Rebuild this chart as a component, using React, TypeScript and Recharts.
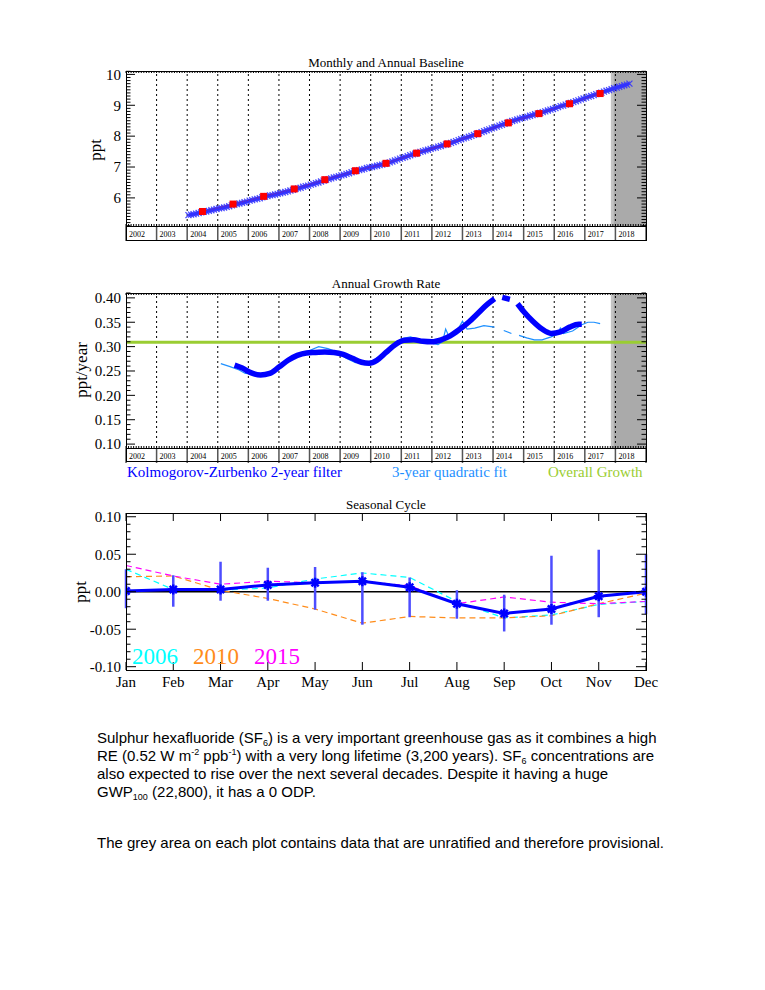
import React from 'react';
import { ComposedChart, Line, XAxis, YAxis, ReferenceLine, ReferenceArea, ErrorBar } from 'recharts';

const SERIF = '"Liberation Serif", "Times New Roman", serif';
const SANS = '"Liberation Sans", Arial, sans-serif';

// year boundaries of the time axis (labels sit between them)
const yearBounds = [2002, 2003, 2004, 2005, 2006, 2007, 2008, 2009, 2010, 2011, 2012, 2013, 2014, 2015, 2016, 2017, 2018, 2019];
const gridYears = [2003, 2004, 2005, 2006, 2007, 2008, 2009, 2010, 2011, 2012, 2013, 2014, 2015, 2016, 2017, 2018];
const provisionalFrom = 2017.85;

// monthly baseline, Jan 2004 onwards (ppt)
const monthlyStart = 2004;
const monthlyPpt = [
  5.44, 5.46, 5.47, 5.49, 5.51, 5.53, 5.55, 5.56, 5.58, 5.60, 5.62, 5.64,
  5.66, 5.67, 5.69, 5.71, 5.73, 5.76, 5.78, 5.80, 5.82, 5.84, 5.86, 5.88,
  5.91, 5.93, 5.95, 5.97, 5.99, 6.02, 6.04, 6.06, 6.08, 6.09, 6.11, 6.13,
  6.15, 6.17, 6.19, 6.21, 6.24, 6.26, 6.29, 6.31, 6.33, 6.36, 6.38, 6.40,
  6.43, 6.45, 6.48, 6.50, 6.53, 6.56, 6.59, 6.61, 6.63, 6.66, 6.68, 6.70,
  6.73, 6.75, 6.78, 6.80, 6.83, 6.86, 6.88, 6.90, 6.92, 6.94, 6.97, 6.99,
  7.00, 7.02, 7.04, 7.06, 7.08, 7.10, 7.12, 7.15, 7.18, 7.21, 7.24, 7.27,
  7.30, 7.32, 7.35, 7.38, 7.41, 7.43, 7.46, 7.49, 7.51, 7.54, 7.56, 7.59,
  7.61, 7.63, 7.66, 7.68, 7.71, 7.73, 7.76, 7.78, 7.81, 7.84, 7.87, 7.90,
  7.93, 7.95, 7.98, 8.01, 8.04, 8.07, 8.10, 8.13, 8.16, 8.19, 8.22, 8.25,
  8.28, 8.31, 8.34, 8.37, 8.40, 8.43, 8.46, 8.49, 8.51, 8.54, 8.57, 8.59,
  8.61, 8.63, 8.66, 8.68, 8.71, 8.73, 8.75, 8.78, 8.80, 8.83, 8.86, 8.88,
  8.91, 8.94, 8.97, 8.99, 9.02, 9.05, 9.08, 9.10, 9.13, 9.16, 9.19, 9.22,
  9.25, 9.28, 9.30, 9.33, 9.36, 9.38, 9.41, 9.44, 9.47, 9.49, 9.52, 9.55,
  9.57, 9.60, 9.62, 9.65, 9.67, 9.70,
];

// annual means
const annualYears = [2004.5, 2005.5, 2006.5, 2007.5, 2008.5, 2009.5, 2010.5, 2011.5, 2012.5, 2013.5, 2014.5, 2015.5, 2016.5, 2017.5];
const annualPpt = [5.56, 5.80, 6.05, 6.29, 6.59, 6.88, 7.12, 7.45, 7.75, 8.08, 8.43, 8.73, 9.05, 9.38];

const baselineTicks = [6, 7, 8, 9, 10];

// growth rate (ppt/year); null = gap in the record
const kzYears = [2005.55, 2005.8, 2006.1, 2006.4, 2006.7, 2007.0, 2007.3, 2007.6, 2007.9, 2008.2, 2008.5, 2008.8, 2009.1, 2009.4, 2009.7, 2009.95, 2010.2, 2010.5, 2010.8, 2011.1, 2011.4, 2011.7, 2012.0, 2012.3, 2012.6, 2012.9, 2013.2, 2013.5, 2013.8, 2014.05, 2014.2, 2014.3, 2014.55, 2014.7, 2014.8, 2015.0, 2015.3, 2015.6, 2015.9, 2016.2, 2016.5, 2016.8, 2016.9];
const kzRate = [0.262, 0.256, 0.246, 0.242, 0.245, 0.258, 0.272, 0.282, 0.287, 0.288, 0.289, 0.288, 0.284, 0.276, 0.268, 0.266, 0.272, 0.288, 0.304, 0.313, 0.314, 0.311, 0.310, 0.314, 0.322, 0.335, 0.350, 0.368, 0.386, 0.398, null, 0.401, 0.397, null, 0.388, 0.372, 0.352, 0.336, 0.327, 0.330, 0.340, 0.346, 0.346];

const quadYears = [2005.1, 2005.4, 2005.7, 2005.9, 2006.2, 2006.5, 2006.8, 2007.1, 2007.4, 2007.7, 2008.0, 2008.3, 2008.6, 2008.9, 2009.2, 2009.5, 2009.8, 2010.1, 2010.4, 2010.7, 2011.0, 2011.3, 2011.6, 2011.9, 2012.2, 2012.35, 2012.45, 2012.55, 2012.8, 2013.0, 2013.15, 2013.4, 2013.7, 2014.05, 2014.2, 2014.35, 2014.6, 2014.7, 2014.85, 2015.1, 2015.35, 2015.6, 2015.9, 2016.1, 2016.2, 2016.3, 2016.6, 2016.9, 2017.1, 2017.3, 2017.5];
const quadRate = [0.265, 0.259, 0.252, 0.245, 0.244, 0.243, 0.250, 0.262, 0.276, 0.286, 0.292, 0.300, 0.296, 0.289, 0.276, 0.267, 0.267, 0.272, 0.285, 0.302, 0.316, 0.320, 0.314, 0.308, 0.304, 0.310, 0.336, 0.322, 0.330, 0.352, 0.336, 0.338, 0.343, 0.340, null, 0.333, 0.327, null, 0.323, 0.318, 0.314, 0.314, 0.320, 0.326, 0.338, 0.327, 0.332, 0.345, 0.350, 0.350, 0.347];

const overallGrowth = 0.309;
const growthTicks = [0.1, 0.15, 0.2, 0.25, 0.3, 0.35, 0.4];

// seasonal cycle (ppt)
const months = ['Jan', 'Feb', 'Mar', 'Apr', 'May', 'Jun', 'Jul', 'Aug', 'Sep', 'Oct', 'Nov', 'Dec'];
const cycleMean = [0.001, 0.003, 0.003, 0.009, 0.012, 0.014, 0.006, -0.016, -0.029, -0.023, -0.006, 0.0];
const cycleLow = [-0.022, -0.020, -0.012, -0.012, -0.024, -0.044, -0.034, -0.036, -0.053, -0.044, -0.034, -0.030];
const cycleHigh = [0.030, 0.022, 0.040, 0.032, 0.033, 0.026, 0.019, 0.002, -0.004, 0.048, 0.056, 0.050];
const cycle2006 = [0.030, 0.003, 0.002, 0.005, 0.017, 0.025, 0.019, -0.013, -0.035, -0.031, -0.017, -0.013];
const cycle2010 = [0.020, 0.021, 0.002, -0.009, -0.023, -0.042, -0.033, -0.035, -0.035, -0.032, -0.016, -0.002];
const cycle2015 = [0.035, 0.021, 0.010, 0.014, 0.012, 0.014, 0.008, -0.016, -0.007, -0.014, -0.016, -0.013];
const cycleTicks = [-0.1, -0.05, 0, 0.05, 0.1];

const range = (a: number, b: number, step: number) => {
  const out: number[] = [];
  for (let v = a; v <= b + step / 2; v += step) out.push(Math.round(v * 10000) / 10000);
  return out;
};

const monthlyRows = monthlyPpt.map((y, i) => ({ x: monthlyStart + (i + 0.5) / 12, y }));
const annualRows = annualYears.map((x, i) => ({ x, y: annualPpt[i] }));
const kzRows = kzYears.map((x, i) => ({ x, y: kzRate[i] }));
const quadRows = quadYears.map((x, i) => ({ x, y: quadRate[i] }));
const overallRows = [{ x: 2002, y: overallGrowth }, { x: 2019, y: overallGrowth }];
const seasonRows = months.map((_, i) => ({
  m: i + 1,
  mean: cycleMean[i],
  err: [cycleMean[i] - cycleLow[i], cycleHigh[i] - cycleMean[i]],
  c2006: cycle2006[i],
  c2010: cycle2010[i],
  c2015: cycle2015[i],
}));

const monthTicks = range(2002, 2019, 1 / 12);
const monthNums = months.map((_, i) => i + 1);

const W = 765;
const MARGIN = { top: 10, right: 119, bottom: 5, left: 86 };

const YearTick = (props: any) => {
  const { x, y, payload } = props;
  const v = payload.value;
  return (
    <g>
      <line x1={x} y1={y} x2={x} y2={y + 15} stroke="#555" strokeWidth={1.5} />
      {v < 2019 && (
        <text x={x + 3} y={y + 11} fontSize={8} fontFamily={SERIF} fill="#000">
          {v}
        </text>
      )}
    </g>
  );
};

// tick mark drawn inward from the frame; majors are longer
const MarkTick = (props: any) => {
  const { x, y, payload, vertical, dir, major, majorLen, minorLen } = props;
  const v = payload.value;
  const isMajor = (major as number[]).some((m) => Math.abs(m - v) < 1e-6);
  const len = isMajor ? majorLen : minorLen;
  if (vertical) return <line x1={x} y1={y} x2={x} y2={y + dir * len} stroke="#000" strokeWidth={1} />;
  return <line x1={x} y1={y} x2={x + dir * len} y2={y} stroke="#000" strokeWidth={1} />;
};

const CrossDot = (props: any) => {
  const { cx, cy } = props;
  if (cx == null || cy == null) return <g />;
  return (
    <g stroke="#3434ff" strokeWidth={1.2} opacity={0.9}>
      <line x1={cx - 3} y1={cy - 3} x2={cx + 3} y2={cy + 3} />
      <line x1={cx - 3} y1={cy + 3} x2={cx + 3} y2={cy - 3} />
    </g>
  );
};

const SquareDot = (props: any) => {
  const { cx, cy } = props;
  if (cx == null || cy == null) return <g />;
  return <rect x={cx - 3.5} y={cy - 3.5} width={7} height={7} fill="#ff0000" />;
};

const StarDot = (props: any) => {
  const { cx, cy } = props;
  if (cx == null || cy == null) return <g />;
  const r = 5;
  const d = 3.6;
  return (
    <g stroke="#0000ff" strokeWidth={2.5}>
      <line x1={cx - r} y1={cy} x2={cx + r} y2={cy} />
      <line x1={cx} y1={cy - r} x2={cx} y2={cy + r} />
      <line x1={cx - d} y1={cy - d} x2={cx + d} y2={cy + d} />
      <line x1={cx - d} y1={cy + d} x2={cx + d} y2={cy - d} />
    </g>
  );
};

const tickFont = { fontSize: 15, fontFamily: SERIF, fill: '#000' };

// inward tick marks on both sides of a plot
const sideTicks = (domain: number[], minor: number[], major: number[], majorLen: number, minorLen = 4.5) => [
  <YAxis key="ml" yAxisId="ml" mirror width={1} domain={domain} allowDataOverflow type="number" ticks={minor} interval={0} tickLine={false} axisLine={false} tickSize={0} tickMargin={0}
    tick={<MarkTick dir={1} major={major} majorLen={majorLen} minorLen={minorLen} />} />,
  <YAxis key="mr" yAxisId="mr" orientation="right" mirror width={1} domain={domain} allowDataOverflow type="number" ticks={minor} interval={0} tickLine={false} axisLine={false} tickSize={0} tickMargin={0}
    tick={<MarkTick dir={-1} major={major} majorLen={majorLen} minorLen={minorLen} />} />,
];

const edgeTicks = (dataKey: string, domain: number[], ticks: number[], len: number) => [
  <XAxis key="xt" xAxisId="top" orientation="top" mirror height={1} type="number" dataKey={dataKey} domain={domain} allowDataOverflow ticks={ticks} interval={0} tickLine={false} axisLine={false} tickSize={0} tickMargin={0}
    tick={<MarkTick vertical dir={1} major={[]} majorLen={len} minorLen={len} />} />,
  <XAxis key="xb" xAxisId="bot" mirror height={1} type="number" dataKey={dataKey} domain={domain} allowDataOverflow ticks={ticks} interval={0} tickLine={false} axisLine={false} tickSize={0} tickMargin={0}
    tick={<MarkTick vertical dir={-1} major={[]} majorLen={len} minorLen={len} />} />,
];

const Frame = ({ top, height }: { top: number; height: number }) => (
  <div style={{ position: 'absolute', left: 126, top, width: 521, height, border: '1px solid #000', boxSizing: 'border-box', pointerEvents: 'none' }} />
);

const Txt = ({ x, y, size, color = '#000', children, rotate = false, anchor = 'middle', family = SERIF }: any) => (
  <div
    style={{
      position: 'absolute',
      left: x,
      top: y,
      fontFamily: family,
      fontSize: size,
      color,
      whiteSpace: 'nowrap',
      lineHeight: 1,
      transform: `translate(${anchor === 'middle' ? '-50%' : '0'}, -50%)${rotate ? ' rotate(-90deg)' : ''}`,
      transformOrigin: anchor === 'middle' ? 'center' : 'left center',
    }}
  >
    {children}
  </div>
);

const BaselineChart = () => (
  <ComposedChart width={W} height={185} margin={MARGIN} style={{ position: 'absolute', left: 0, top: 61 }}>
    <XAxis type="number" dataKey="x" domain={[2002, 2019]} allowDataOverflow ticks={yearBounds} interval={0} tick={<YearTick />} tickLine={false} axisLine={false} tickSize={0} tickMargin={0} height={15} />
    {edgeTicks('x', [2002, 2019], monthTicks, 2)}
    <YAxis type="number" domain={[5.09, 10.11]} allowDataOverflow ticks={baselineTicks} interval={0} tickLine={false} axisLine={false} width={40} tickSize={3} tickMargin={2} tick={tickFont} />
    {sideTicks([5.09, 10.11], range(5.1, 10.1, 0.1), baselineTicks, 9)}
    <ReferenceArea x1={provisionalFrom} x2={2017.93} fill="#c4c4c4" fillOpacity={1} stroke="none" />
    <ReferenceArea x1={2017.93} x2={2019} fill="#aaaaaa" fillOpacity={1} stroke="none" />
    {gridYears.map((yr) => (
      <ReferenceLine key={yr} x={yr} stroke="#000" strokeDasharray="2 3" strokeWidth={1} />
    ))}
    <Line data={monthlyRows} dataKey="y" stroke="#2f2fff" strokeWidth={3} dot={<CrossDot />} isAnimationActive={false} />
    <Line data={annualRows} dataKey="y" stroke="#ff0000" strokeWidth={1.2} dot={<SquareDot />} isAnimationActive={false} />
  </ComposedChart>
);

const GrowthChart = () => (
  <ComposedChart width={W} height={185} margin={MARGIN} style={{ position: 'absolute', left: 0, top: 283 }}>
    <XAxis type="number" dataKey="x" domain={[2002, 2019]} allowDataOverflow ticks={yearBounds} interval={0} tick={<YearTick />} tickLine={false} axisLine={false} tickSize={0} tickMargin={0} height={15} />
    {edgeTicks('x', [2002, 2019], monthTicks, 2)}
    <YAxis type="number" domain={[0.092, 0.41]} allowDataOverflow ticks={growthTicks} interval={0} tickLine={false} axisLine={false} width={40} tickSize={3} tickMargin={2} tick={tickFont} tickFormatter={(v: number) => v.toFixed(2)} />
    {sideTicks([0.092, 0.41], range(0.1, 0.41, 0.01), growthTicks, 9)}
    <ReferenceArea x1={provisionalFrom} x2={2017.93} fill="#c4c4c4" fillOpacity={1} stroke="none" />
    <ReferenceArea x1={2017.93} x2={2019} fill="#aaaaaa" fillOpacity={1} stroke="none" />
    {gridYears.map((yr) => (
      <ReferenceLine key={yr} x={yr} stroke="#000" strokeDasharray="2 3" strokeWidth={1} />
    ))}
    <Line data={overallRows} dataKey="y" stroke="#9acd32" strokeWidth={3} dot={false} isAnimationActive={false} />
    <Line data={quadRows} dataKey="y" stroke="#1e90ff" strokeWidth={1.2} dot={false} connectNulls={false} isAnimationActive={false} />
    <Line data={kzRows} dataKey="y" stroke="#0000ff" strokeWidth={5.5} dot={false} connectNulls={false} type="monotone" isAnimationActive={false} />
  </ComposedChart>
);

const SeasonalChart = () => (
  <ComposedChart data={seasonRows} width={W} height={197} margin={MARGIN} style={{ position: 'absolute', left: 0, top: 503 }}>
    <XAxis type="number" dataKey="m" domain={[1, 12]} allowDataOverflow ticks={monthNums} interval={0} tickFormatter={(v: number) => months[v - 1]} tickLine={false} axisLine={false} tickSize={0} tickMargin={6} height={25} tick={tickFont} />
    {edgeTicks('m', [1, 12], monthNums, 8)}
    <YAxis type="number" domain={[-0.1044, 0.105]} allowDataOverflow ticks={cycleTicks} interval={0} tickLine={false} axisLine={false} width={40} tickSize={3} tickMargin={2} tick={tickFont} tickFormatter={(v: number) => v.toFixed(2)} />
    {sideTicks([-0.1044, 0.105], range(-0.1, 0.1, 0.01), cycleTicks, 10)}
    <ReferenceLine y={0} stroke="#000" strokeWidth={1.5} />
    <Line dataKey="c2006" stroke="#00ffff" strokeWidth={1.2} strokeDasharray="6 4" dot={false} isAnimationActive={false} />
    <Line dataKey="c2010" stroke="#ff8c1a" strokeWidth={1.2} strokeDasharray="6 4" dot={false} isAnimationActive={false} />
    <Line dataKey="c2015" stroke="#ff00ff" strokeWidth={1.2} strokeDasharray="6 4" dot={false} isAnimationActive={false} />
    <Line dataKey="mean" stroke="#0000ff" strokeWidth={3} dot={<StarDot />} isAnimationActive={false}>
      <ErrorBar dataKey="err" width={0} stroke="#4d4dff" strokeWidth={2.5} direction="y" />
    </Line>
  </ComposedChart>
);

const subSt = { fontSize: 9, position: 'relative' as const, top: 3, lineHeight: 0 };
const supSt = { fontSize: 9, position: 'relative' as const, top: -6, lineHeight: 0 };

export default function App() {
  return (
    <div style={{ position: 'absolute', left: 0, top: 0, width: 765, height: 990, background: '#fff', overflow: 'hidden' }}>
      <BaselineChart />
      <Frame top={71} height={156} />
      <Frame top={226} height={15} />
      <Txt x={386} y={62} size={13}>Monthly and Annual Baseline</Txt>
      <Txt x={95} y={150} size={17} rotate>ppt</Txt>

      <GrowthChart />
      <Frame top={293} height={156} />
      <Frame top={448} height={14} />
      <Txt x={386} y={283} size={13}>Annual Growth Rate</Txt>
      <Txt x={81} y={370} size={17} rotate>ppt/year</Txt>
      <Txt x={127} y={472} size={15} color="#0000ff" anchor="start">Kolmogorov-Zurbenko 2-year filter</Txt>
      <Txt x={392} y={472} size={15} color="#1e90ff" anchor="start">3-year quadratic fit</Txt>
      <Txt x={548} y={472} size={15} color="#9acd32" anchor="start">Overall Growth</Txt>

      <SeasonalChart />
      <Frame top={513} height={158} />
      <Txt x={386} y={504} size={13}>Seasonal Cycle</Txt>
      <Txt x={80} y={592} size={17} rotate>ppt</Txt>
      <Txt x={132} y={656} size={23} color="#00ffff" anchor="start">2006</Txt>
      <Txt x={193} y={656} size={23} color="#ff8c1a" anchor="start">2010</Txt>
      <Txt x={254} y={656} size={23} color="#ff00ff" anchor="start">2015</Txt>

      <div style={{ position: 'absolute', left: 97, top: 729, fontFamily: SANS, fontSize: 15, lineHeight: '18px', color: '#000', whiteSpace: 'nowrap' }}>
        Sulphur hexafluoride (SF<span style={subSt}>6</span>) is a very important greenhouse gas as it combines a high
        <br />
        RE (0.52 W m<span style={supSt}>-2</span> ppb<span style={supSt}>-1</span>) with a very long lifetime (3,200 years). SF<span style={subSt}>6</span> concentrations are
        <br />
        also expected to rise over the next several decades. Despite it having a huge
        <br />
        GWP<span style={subSt}>100</span> (22,800), it has a 0 ODP.
      </div>
      <div style={{ position: 'absolute', left: 97, top: 834, fontFamily: SANS, fontSize: 15, lineHeight: '18px', color: '#000', whiteSpace: 'nowrap' }}>
        The grey area on each plot contains data that are unratified and therefore provisional.
      </div>
    </div>
  );
}
